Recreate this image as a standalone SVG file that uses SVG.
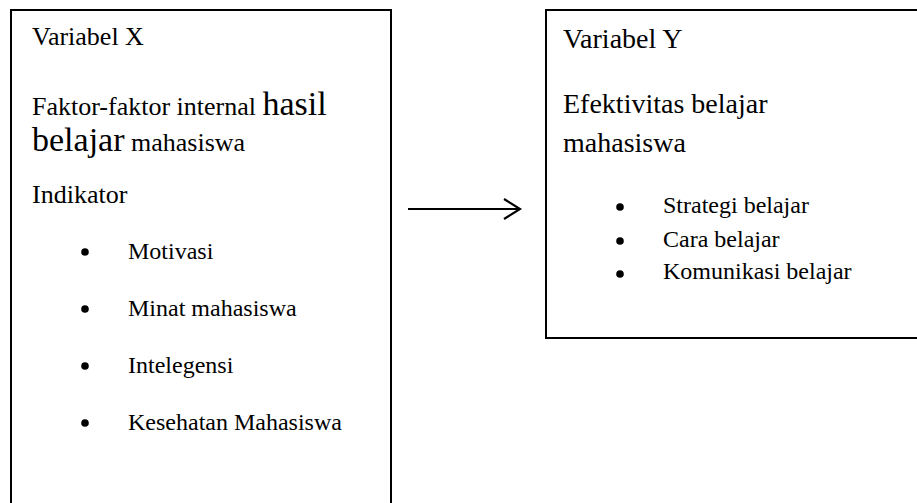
<svg xmlns="http://www.w3.org/2000/svg" width="917" height="503" viewBox="0 0 917 503">
  <style>
    .box { fill: #ffffff; stroke: #000000; stroke-width: 2; }
    .t { font-family: "Liberation Serif", "Times New Roman", serif; fill: #000000; }
    .s1 { font-size: 26px; }
    .s2 { font-size: 34px; }
    .s3 { font-size: 28px; }
    .sb { font-size: 24px; }
    .dot { fill: #000000; }
    .conn { stroke: #000000; stroke-width: 2; fill: none; }
  </style>
  <defs>
    <marker id="arrow" markerWidth="20" markerHeight="24" refX="17" refY="11" orient="auto" markerUnits="userSpaceOnUse">
      <polyline points="1,1 17,11 1,21" fill="none" stroke="#000000" stroke-width="2.2"/>
    </marker>
  </defs>
  <rect width="917" height="503" fill="#ffffff"/>
  <g id="node-variabel-x">
    <rect class="box" x="11" y="10" width="380" height="510"/>
    <text class="t s1" x="32" y="45">Variabel X</text>
    <text class="t s1" x="32" y="115">Faktor-faktor internal <tspan class="s2">hasil</tspan></text>
    <text class="t s1" x="32" y="151"><tspan class="s2">belajar</tspan> mahasiswa</text>
    <text class="t s1" x="32" y="203">Indikator</text>
    <circle class="dot" cx="85" cy="252" r="3.8"/>
    <text class="t sb" x="128" y="259">Motivasi</text>
    <circle class="dot" cx="85" cy="309" r="3.8"/>
    <text class="t sb" x="128" y="316">Minat mahasiswa</text>
    <circle class="dot" cx="85" cy="366" r="3.8"/>
    <text class="t sb" x="128" y="373">Intelegensi</text>
    <circle class="dot" cx="85" cy="423" r="3.8"/>
    <text class="t sb" x="128" y="430">Kesehatan Mahasiswa</text>
  </g>
  <g id="node-variabel-y">
    <rect class="box" x="546" y="10" width="380" height="328"/>
    <text class="t s3" x="563" y="48">Variabel Y</text>
    <text class="t s3" x="563" y="113">Efektivitas belajar</text>
    <text class="t s3" x="563" y="152">mahasiswa</text>
    <circle class="dot" cx="620" cy="207" r="3.8"/>
    <text class="t sb" x="663" y="213">Strategi belajar</text>
    <circle class="dot" cx="620" cy="241" r="3.8"/>
    <text class="t sb" x="663" y="247">Cara belajar</text>
    <circle class="dot" cx="620" cy="274" r="3.8"/>
    <text class="t sb" x="663" y="279">Komunikasi belajar</text>
  </g>
  <g id="connectors">
    <line class="conn" x1="408" y1="209" x2="520" y2="209" marker-end="url(#arrow)"/>
  </g>
</svg>
